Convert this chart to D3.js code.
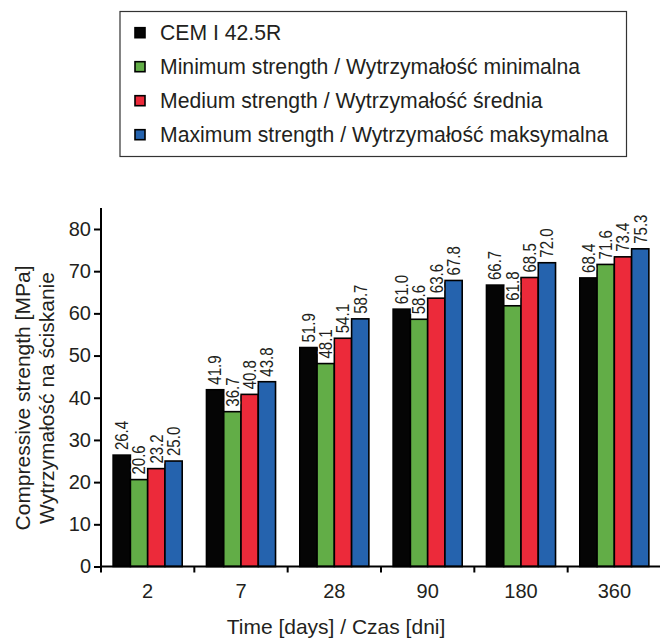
<!DOCTYPE html>
<html>
<head>
<meta charset="utf-8">
<script src="https://cdn.jsdelivr.net/npm/d3@7"></script>
<style>
  html, body { margin: 0; padding: 0; background: #fff; }
  svg { display: block; font-family: "Liberation Sans", Arial, sans-serif; }
</style>
</head>
<body>
<svg id="chart" width="660" height="640"></svg>
<script>
const categories = ["2", "7", "28", "90", "180", "360"];
const seriesNames = [
  "CEM I 42.5R",
  "Minimum strength / Wytrzymałość minimalna",
  "Medium strength / Wytrzymałość średnia",
  "Maximum strength / Wytrzymałość maksymalna"
];
const seriesColors = ["#050505", "#62ad47", "#ec2a3a", "#2563ae"];
const cemValues = [26.4, 41.9, 51.9, 61.0, 66.7, 68.4];
const minValues = [20.6, 36.7, 48.1, 58.6, 61.8, 71.6];
const medValues = [23.2, 40.8, 54.1, 63.6, 68.5, 73.4];
const maxValues = [25.0, 43.8, 58.7, 67.8, 72.0, 75.3];
const yTicks = [0, 10, 20, 30, 40, 50, 60, 70, 80];

const seriesValues = [cemValues, minValues, medValues, maxValues];
const textColor = "#231f20";

const svg = d3.select("#chart");

const x0 = d3.scaleBand().domain(categories).range([101, 661])
  .paddingInner(0.26).paddingOuter(0.13);
const x1 = d3.scaleBand().domain(d3.range(seriesNames.length))
  .range([0, x0.bandwidth()]).padding(0);
const y = d3.scaleLinear().domain([0, 85]).range([566.5, 207.9]);

const groups = svg.append("g").selectAll("g")
  .data(categories).join("g")
  .attr("transform", c => `translate(${x0(c)},0)`);

const barData = ci => seriesValues.map((vals, si) => ({ si, v: vals[ci] }));

groups.each(function(c, ci) {
  d3.select(this).selectAll("rect").data(barData(ci)).join("rect")
    .attr("x", d => x1(d.si))
    .attr("y", d => y(d.v))
    .attr("width", x1.bandwidth())
    .attr("height", d => y(0) - y(d.v))
    .attr("fill", d => seriesColors[d.si])
    .attr("stroke", "#000")
    .attr("stroke-width", 1.6);
});

groups.each(function(c, ci) {
  d3.select(this).selectAll("text.val").data(barData(ci)).join("text")
    .attr("class", "val")
    .attr("transform", d => `translate(${x1(d.si) + x1.bandwidth() / 2},${y(d.v) - 5}) rotate(-90)`)
    .attr("dy", "0.36em")
    .attr("text-anchor", "start")
    .attr("font-size", 17.5)
    .attr("fill", textColor)
    .attr("stroke", "#fff")
    .attr("stroke-width", 2)
    .attr("paint-order", "stroke")
    .text(d => d.v.toFixed(1))
    .each(function() {
      const len = this.getComputedTextLength();
      d3.select(this).attr("textLength", len * 0.86).attr("lengthAdjust", "spacingAndGlyphs");
    });
});

// x axis
const xAxis = svg.append("g").attr("transform", `translate(0,${y(0)})`);
xAxis.append("line").attr("x1", 101).attr("x2", 660).attr("y1", 0).attr("y2", 0)
  .attr("stroke", "#000").attr("stroke-width", 2);
const boundaries = categories.map(c => x0(c) - x0.step() * x0.paddingInner() / 2);
xAxis.selectAll("line.tick").data(boundaries).join("line")
  .attr("class", "tick")
  .attr("x1", d => d).attr("x2", d => d).attr("y1", 0).attr("y2", 6)
  .attr("stroke", "#000").attr("stroke-width", 2);
xAxis.selectAll("text").data(categories).join("text")
  .attr("x", c => x0(c) + x0.bandwidth() / 2)
  .attr("y", 31)
  .attr("text-anchor", "middle")
  .attr("font-size", 20)
  .attr("fill", textColor)
  .text(c => c);

// y axis
const yAxis = svg.append("g").attr("transform", "translate(101,0)")
  .call(d3.axisLeft(y).tickValues(yTicks).tickSize(7).tickPadding(3).tickFormat(d3.format("d")));
yAxis.select(".domain").attr("d", `M0,${y(85)}V${y(0)}`).attr("stroke-width", 2);
yAxis.selectAll(".tick line").attr("stroke-width", 2);
yAxis.selectAll(".tick text").attr("font-size", 20).attr("fill", textColor)
  .attr("font-family", "Liberation Sans, Arial, sans-serif");

// axis titles
svg.append("text")
  .attr("x", 336).attr("y", 634)
  .attr("text-anchor", "middle")
  .attr("font-size", 21)
  .attr("fill", textColor)
  .text("Time [days] / Czas [dni]");

const yt = svg.append("text")
  .attr("transform", "translate(0,398) rotate(-90)")
  .attr("text-anchor", "middle")
  .attr("font-size", 21)
  .attr("fill", textColor);
yt.append("tspan").attr("x", 0).attr("y", 30).text("Compressive strength [MPa]");
yt.append("tspan").attr("x", 0).attr("y", 54).text("Wytrzymałość na ściskanie");

// legend
const legend = svg.append("g");
legend.append("rect")
  .attr("x", 120).attr("y", 11.5).attr("width", 506.5).attr("height", 145)
  .attr("fill", "#fff").attr("stroke", "#333").attr("stroke-width", 1.2);
const items = legend.selectAll("g.item").data(seriesNames).join("g")
  .attr("class", "item")
  .attr("transform", (d, i) => `translate(0,${32.7 + i * 34})`);
items.append("rect")
  .attr("x", 135).attr("y", -5).attr("width", 10).attr("height", 10)
  .attr("fill", (d, i) => seriesColors[i])
  .attr("stroke", "#000").attr("stroke-width", 1.6);
items.append("text")
  .attr("x", 160).attr("y", 0).attr("dy", "0.35em")
  .attr("font-size", 21.2)
  .attr("fill", textColor)
  .text(d => d);
</script>
</body>
</html>
